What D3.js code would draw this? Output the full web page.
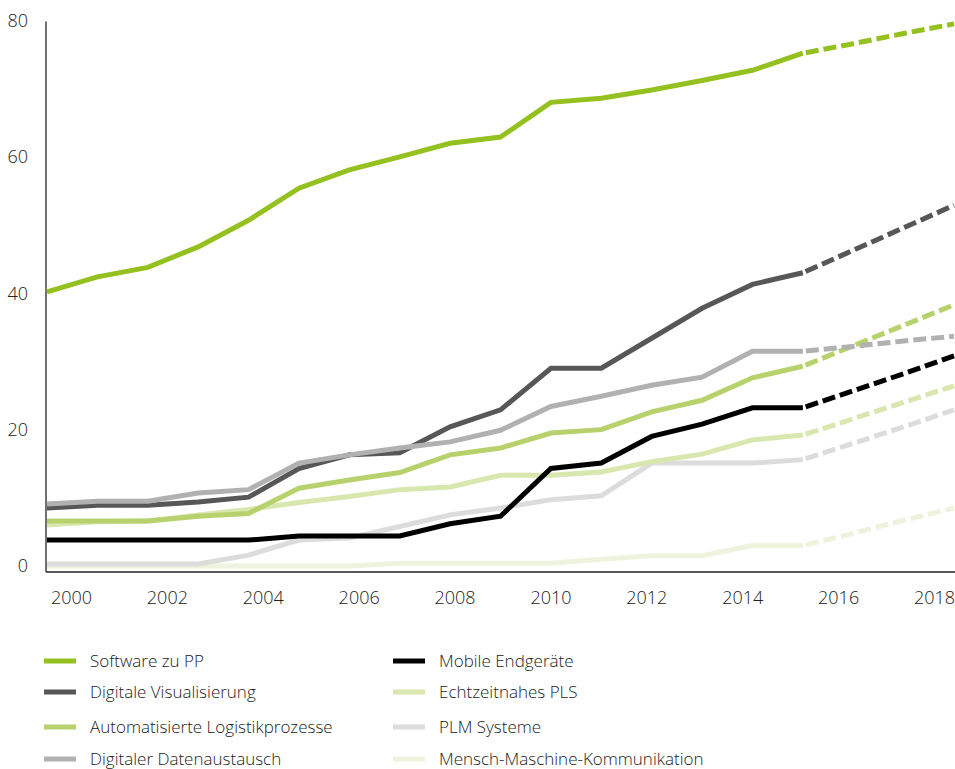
<!DOCTYPE html>
<html>
<head>
<meta charset="utf-8">
<script src="https://cdn.jsdelivr.net/npm/d3@7"></script>
<style>
  html, body { margin: 0; padding: 0; background: #fff; }
  svg { display: block; }
  text { font-family: "Open Sans", "Liberation Sans", sans-serif; font-weight: 300; fill: #222; }
</style>
</head>
<body>
<svg id="chart" width="955" height="769"></svg>
<script>
// ---- data ----
const years = [2000,2001,2002,2003,2004,2005,2006,2007,2008,2009,2010,2011,2012,2013,2014,2015,2016,2017,2018];
const lastActualYear = 2015;
const xTickLabels = ["2000","2002","2004","2006","2008","2010","2012","2014","2016","2018"];
const yTickValues = [0, 20, 40, 60, 80];

const softwarePP      = [40.2,42.4,43.8,46.8,50.7,55.4,58.1,60.0,62.0,62.9,68.0,68.6,69.8,71.2,72.7,75.2,76.6,78.1,79.5];
const digVisual       = [8.5,8.9,8.9,9.4,10.1,14.3,16.3,16.6,20.4,22.9,29.0,29.0,33.4,37.8,41.3,43.0,46.3,49.6,52.9];
const autoLogistik    = [6.6,6.6,6.6,7.3,7.7,11.4,12.6,13.7,16.3,17.3,19.5,20.0,22.6,24.3,27.6,29.3,32.3,35.3,38.3];
const digDaten        = [9.1,9.5,9.5,10.7,11.2,15.1,16.3,17.3,18.2,19.9,23.4,24.9,26.5,27.7,31.5,31.5,32.2,33.0,33.7];
const mobileEnd       = [3.8,3.8,3.8,3.8,3.8,4.4,4.4,4.4,6.2,7.3,14.3,15.1,19.0,20.8,23.2,23.2,25.7,28.2,30.8];
const echtzeitPLS     = [6.0,6.5,6.6,7.5,8.3,9.3,10.2,11.2,11.6,13.3,13.3,13.8,15.3,16.4,18.5,19.2,21.6,24.0,26.4];
const plmSysteme      = [0.3,0.3,0.3,0.3,1.6,3.8,4.1,5.8,7.5,8.5,9.7,10.3,15.1,15.1,15.1,15.6,18.0,20.4,22.9];
const menschMaschine  = [0,0,0,0,0,0,0,0.4,0.4,0.4,0.4,1.0,1.5,1.5,3.0,3.0,4.8,6.7,8.5];

const seriesNames  = ["Software zu PP","Digitale Visualisierung","Automatisierte Logistikprozesse","Digitaler Datenaustausch","Mobile Endgeräte","Echtzeitnahes PLS","PLM Systeme","Mensch-Maschine-Kommunikation"];
const seriesValues = [softwarePP, digVisual, autoLogistik, digDaten, mobileEnd, echtzeitPLS, plmSysteme, menschMaschine];
const seriesColors = ["#94c11f","#575757","#b7d26c","#b1b1b1","#000000","#d7e7ae","#dcdcdc","#eef3dd"];
// draw order (back to front), indexes into the series
const drawOrder = [7,6,5,2,1,3,4,0];

// ---- layout ----
const svg = d3.select("#chart");
const x = d3.scaleLinear().domain([2000, 2018]).range([47, 954]);
const y = d3.scaleLinear().domain([0, 80]).range([566, 20.5]);
const xLabel = d3.scalePoint().domain(xTickLabels).range([71, 934]);
const baseY = 572;

// axes lines
svg.append("line").attr("x1", 46).attr("x2", 46).attr("y1", y(80) + 1).attr("y2", baseY)
  .attr("stroke", "#222").attr("stroke-width", 1.3);
svg.append("line").attr("x1", 46).attr("x2", 955).attr("y1", baseY).attr("y2", baseY)
  .attr("stroke", "#222").attr("stroke-width", 1.3);

// y axis labels
const yAxis = d3.axisLeft(y).tickValues(yTickValues).tickSize(0).tickPadding(0);
const gy = svg.append("g").attr("transform", "translate(28,0)").call(yAxis);
gy.select(".domain").remove();
gy.selectAll("text").attr("font-size", 18).attr("fill", "#222")
  .style("font-family", "'Open Sans','Liberation Sans',sans-serif").style("font-weight", 300);

// x axis labels
const xAxis = d3.axisBottom(xLabel).tickSize(0).tickPadding(0);
const gx = svg.append("g").attr("transform", `translate(0,${591})`).call(xAxis);
gx.select(".domain").remove();
gx.selectAll("text").attr("font-size", 18).attr("fill", "#222")
  .style("font-family", "'Open Sans','Liberation Sans',sans-serif").style("font-weight", 300);

// lines
const line = d3.line().x(d => x(d.year)).y(d => y(d.value));
drawOrder.forEach(i => {
  const pts = years.map((yr, k) => ({ year: yr, value: seriesValues[i][k] }));
  const solid = pts.filter(p => p.year <= lastActualYear);
  const dashed = pts.filter(p => p.year >= lastActualYear);
  svg.append("path").datum(solid).attr("d", line)
    .attr("fill", "none").attr("stroke", seriesColors[i]).attr("stroke-width", 5)
    .attr("stroke-linejoin", "miter");
  svg.append("path").datum(dashed).attr("d", line)
    .attr("fill", "none").attr("stroke", seriesColors[i]).attr("stroke-width", 5)
    .attr("stroke-dasharray", "13,5").attr("stroke-dashoffset", -3);
});

// legend
const legendRowsY = [661, 692, 727, 759];
const legendColsX = [44, 393];
seriesNames.forEach((name, i) => {
  const col = Math.floor(i / 4), row = i % 4;
  const lx = legendColsX[col], ly = legendRowsY[row];
  svg.append("line").attr("x1", lx).attr("x2", lx + 32).attr("y1", ly).attr("y2", ly)
    .attr("stroke", seriesColors[i]).attr("stroke-width", 5);
  svg.append("text").attr("x", lx + 46).attr("y", ly).attr("dy", "0.35em")
    .attr("font-size", 17).text(name);
});
</script>
</body>
</html>
